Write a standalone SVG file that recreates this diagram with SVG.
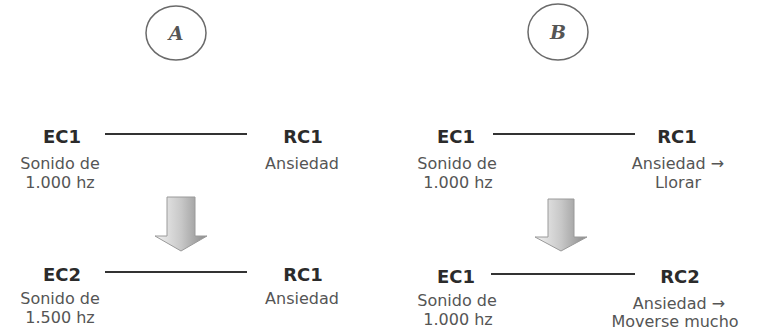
<svg xmlns="http://www.w3.org/2000/svg" width="759" height="333" viewBox="0 0 759 333">
<defs>
<linearGradient id="ag" x1="0" y1="0" x2="1" y2="0">
<stop offset="0" stop-color="#f2f2f2"/>
<stop offset="0.5" stop-color="#c8c8c8"/>
<stop offset="1" stop-color="#8a8a8a"/>
</linearGradient>
</defs>
<style>
.lbl{font-family:"DejaVu Sans",Verdana,sans-serif;font-weight:bold;font-size:18px;fill:#2b2b2b;text-anchor:middle}
.txt{font-family:"DejaVu Sans",Verdana,sans-serif;font-size:16px;fill:#555;text-anchor:middle}
.circ{fill:none;stroke:#6a6a6a;stroke-width:1.5}
.let{font-family:"DejaVu Serif","Liberation Serif",serif;font-weight:bold;font-style:italic;font-size:19px;fill:#555;text-anchor:middle}
.con{stroke:#333;stroke-width:2.2;fill:none}
.arr{fill:url(#ag);stroke:#9a9a9a;stroke-width:1}
</style>
<rect width="759" height="333" fill="#fff"/>

<g id="circleA"><ellipse class="circ" cx="176" cy="33" rx="30" ry="27"/><text class="let" x="176" y="40">A</text></g>
<g id="circleB"><ellipse class="circ" cx="558" cy="32" rx="30" ry="28"/><text class="let" x="558" y="39">B</text></g>

<g id="connectors">
<line class="con" x1="105" y1="134" x2="247" y2="134"/>
<line class="con" x1="105" y1="272" x2="247" y2="272"/>
<line class="con" x1="493" y1="134" x2="635" y2="134"/>
<line class="con" x1="491" y1="274" x2="635" y2="274"/>
<polygon class="arr" points="167,197 195,197 195,236 207,236 181,251 155,236 167,236"/>
<polygon class="arr" points="548,199 574,199 574,237 587,237 561,251 535,237 548,237"/>
</g>

<g id="A-EC1"><text class="lbl" x="62" y="143">EC1</text><text class="txt" x="60" y="169">Sonido de</text><text class="txt" x="60" y="188">1.000 hz</text></g>
<g id="A-RC1-top"><text class="lbl" x="303" y="143">RC1</text><text class="txt" x="302" y="169">Ansiedad</text></g>
<g id="A-EC2"><text class="lbl" x="62" y="281">EC2</text><text class="txt" x="60" y="304">Sonido de</text><text class="txt" x="60" y="323">1.500 hz</text></g>
<g id="A-RC1-bottom"><text class="lbl" x="303" y="281">RC1</text><text class="txt" x="302" y="304">Ansiedad</text></g>

<g id="B-EC1-top"><text class="lbl" x="456" y="143">EC1</text><text class="txt" x="457" y="169">Sonido de</text><text class="txt" x="458" y="188">1.000 hz</text></g>
<g id="B-RC1"><text class="lbl" x="677" y="143">RC1</text><text class="txt" x="678" y="169">Ansiedad →</text><text class="txt" x="678" y="188">Llorar</text></g>
<g id="B-EC1-bottom"><text class="lbl" x="456" y="283">EC1</text><text class="txt" x="457" y="306">Sonido de</text><text class="txt" x="458" y="325">1.000 hz</text></g>
<g id="B-RC2"><text class="lbl" x="680" y="283">RC2</text><text class="txt" x="679" y="309">Ansiedad →</text><text class="txt" x="675" y="327">Moverse mucho</text></g>
</svg>
